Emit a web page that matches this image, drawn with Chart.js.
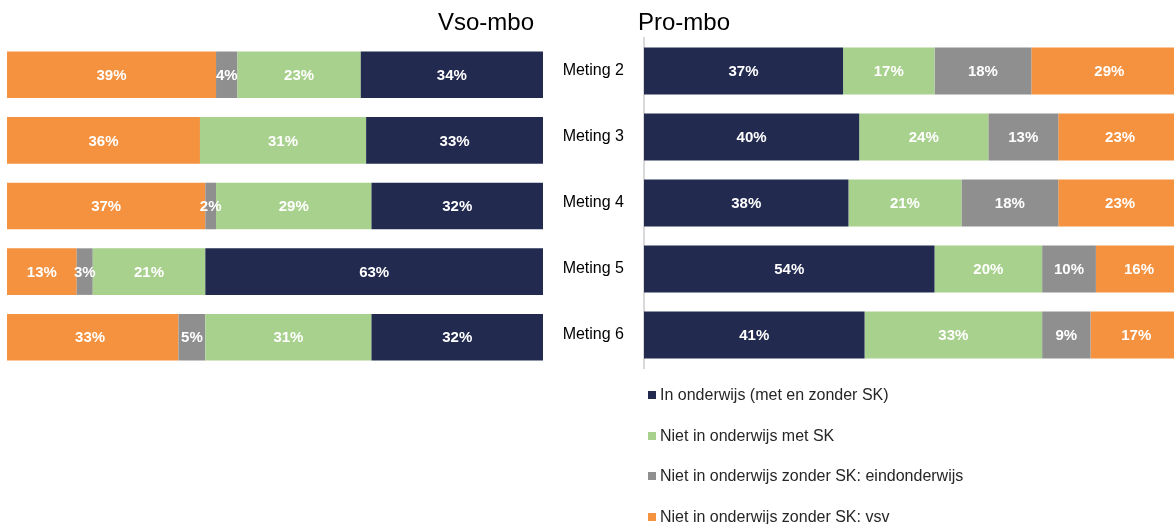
<!DOCTYPE html>
<html>
<head>
<meta charset="utf-8">
<script src="https://cdn.jsdelivr.net/npm/chart.js@4"></script>
<style>
  body { margin: 0; background: #fff; font-family: "Liberation Sans", Arial, sans-serif; }
  #wrap { position: relative; width: 1174px; height: 524px; overflow: hidden; }
  .box { position: absolute; top: 0; height: 400px; }
  .title { position: absolute; font-size: 24px; line-height: 24px; color: #000; }
  #legend { position: absolute; left: 648px; top: 383px; }
  .item { display: flex; align-items: center; height: 24px; margin-bottom: 16.5px; font-size: 16px; color: #262626; }
  .item span { display: inline-block; width: 8px; height: 8px; margin-right: 4px; }
</style>
</head>
<body>
<div id="wrap">
  <div class="box" style="left:0;width:560px"><canvas id="vso"></canvas></div>
  <div class="box" style="left:560px;width:622px"><canvas id="pro"></canvas></div>
  <div class="title" style="right:640px;top:10px">Vso-mbo</div>
  <div class="title" style="left:638px;top:10px">Pro-mbo</div>
  <div id="legend"></div>
</div>
<script>
const metingen = ["Meting 2", "Meting 3", "Meting 4", "Meting 5", "Meting 6"];
const reeksen = [
  "In onderwijs (met en zonder SK)",
  "Niet in onderwijs met SK",
  "Niet in onderwijs zonder SK: eindonderwijs",
  "Niet in onderwijs zonder SK: vsv",
];
const kleuren = ["#222a50", "#a9d18e", "#8f8f8f", "#f4923f"];

// Vso-mbo
const vsoOnderwijs = [34, 33, 32, 63, 32];
const vsoMetSK = [23, 31, 29, 21, 31];
const vsoEind = [4, 0, 2, 3, 5];
const vsoVsv = [39, 36, 37, 13, 33];

// Pro-mbo
const proOnderwijs = [37, 40, 38, 54, 41];
const proMetSK = [17, 24, 21, 20, 33];
const proEind = [18, 13, 18, 10, 9];
const proVsv = [29, 23, 23, 16, 17];

const font = "'Liberation Sans', Arial, sans-serif";

// percentages in het midden van elk stuk
const barLabels = {
  id: "barLabels",
  afterDatasetsDraw(chart) {
    const { ctx } = chart;
    ctx.save();
    ctx.fillStyle = "#fff";
    ctx.font = "bold 15px " + font;
    ctx.textAlign = "center";
    ctx.textBaseline = "middle";
    chart.data.datasets.forEach((ds, i) => {
      chart.getDatasetMeta(i).data.forEach((bar, j) => {
        const v = ds.data[j];
        if (!v) return;
        const p = bar.getCenterPoint();
        ctx.fillText(v + "%", p.x, p.y + 1);
      });
    });
    ctx.restore();
  },
};

const makeDatasets = (rows) =>
  rows.map((data, i) => ({
    label: reeksen[i],
    data,
    backgroundColor: kleuren[i],
    borderWidth: 0,
    barPercentage: 0.71,
    categoryPercentage: 1,
  }));

new Chart(document.getElementById("vso"), {
  type: "bar",
  data: { labels: metingen, datasets: makeDatasets([vsoOnderwijs, vsoMetSK, vsoEind, vsoVsv]) },
  plugins: [barLabels],
  options: {
    indexAxis: "y",
    responsive: true,
    maintainAspectRatio: false,
    animation: false,
    layout: { padding: { left: 7, right: 17, top: 42, bottom: 30 } },
    plugins: { legend: { display: false }, tooltip: { enabled: false } },
    scales: {
      x: { stacked: true, reverse: true, min: 0, max: 100, display: false },
      y: { stacked: true, display: false },
    },
  },
});

// rechter grafiek loopt iets buiten beeld, zoals in het origineel
new Chart(document.getElementById("pro"), {
  type: "bar",
  data: { labels: metingen, datasets: makeDatasets([proOnderwijs, proMetSK, proEind, proVsv]) },
  plugins: [barLabels],
  options: {
    indexAxis: "y",
    responsive: true,
    maintainAspectRatio: false,
    animation: false,
    layout: { padding: { left: 0, right: 0, top: 38, bottom: 32 } },
    plugins: { legend: { display: false }, tooltip: { enabled: false } },
    scales: {
      x: { stacked: true, min: 0, max: 100, display: false },
      y: {
        stacked: true,
        grid: { display: false },
        border: { color: "#d9d9d9", width: 2 },
        ticks: { color: "#000", padding: 12, font: { size: 16, family: font } },
        afterFit: (scale) => { scale.width = 84; },
      },
    },
  },
});

// legenda
const legend = document.getElementById("legend");
reeksen.forEach((naam, i) => {
  const row = document.createElement("div");
  row.className = "item";
  row.innerHTML = `<span style="background:${kleuren[i]}"></span>${naam}`;
  legend.appendChild(row);
});
</script>
</body>
</html>
